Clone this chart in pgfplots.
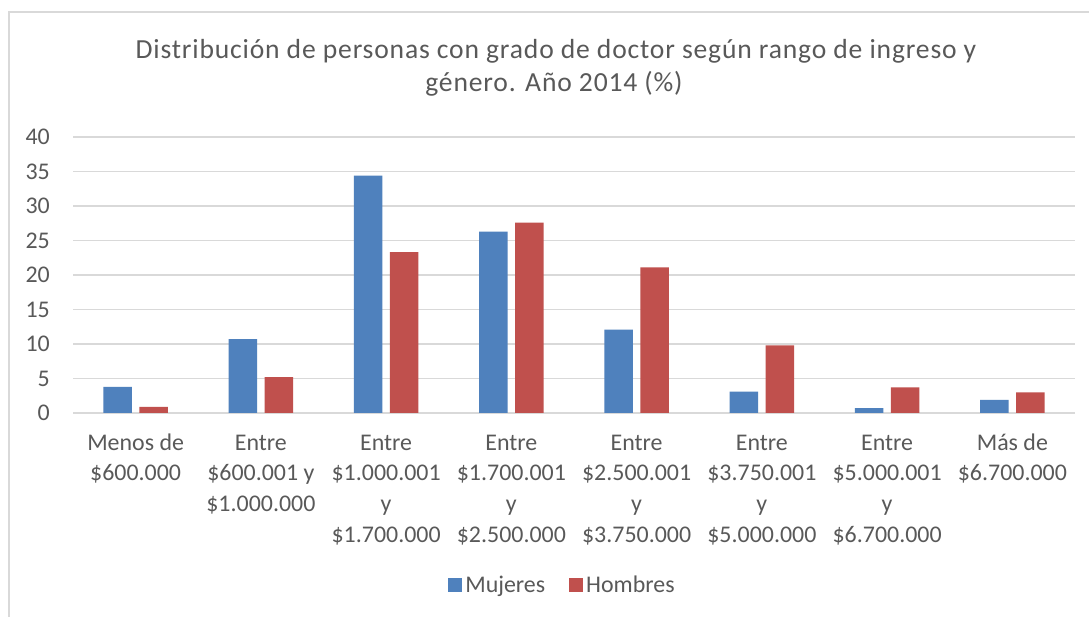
\documentclass[border=0pt]{standalone}
\usepackage{pgfplots}
\pgfplotsset{compat=1.18}
\usepackage{fontspec}
\setmainfont{Carlito}
\newfontfamily\titlefont[LetterSpace=3]{Carlito}
\definecolor{mblue}{HTML}{4F81BD}
\definecolor{hred}{HTML}{C0504D}
\definecolor{txt}{HTML}{595959}
\definecolor{gridc}{HTML}{D9D9D9}
\begin{document}
\begin{tikzpicture}[x=1bp,y=1bp]
\useasboundingbox (0,0) rectangle (1089,617);
\fill[white] (0,0) rectangle (1089,617);
\draw[gridc, line width=1.2bp] (9,0) -- (9,605) -- (1089,605);
\node[anchor=base, text=txt, inner sep=0pt, font=\titlefont\fontsize{27.7}{33}\selectfont] at (556,558) {Distribución de personas con grado de doctor según rango de ingreso y};
\node[anchor=base, text=txt, inner sep=0pt, font=\titlefont\fontsize{27.7}{33}\selectfont] at (554,525) {género. Año 2014 (\%)};
\begin{axis}[
  at={(73bp,204bp)}, anchor=south west,
  scale only axis, width=1002bp, height=276bp,
  xmin=-0.5, xmax=7.5, ymin=0, ymax=40,
  ytick={0,5,...,40}, xtick={0,...,7},
  xticklabels={{\strut Menos de\\\$600.000},
               {\strut Entre\\\$600.001 y\\\$1.000.000},
               {\strut Entre\\\$1.000.001\\y\\\$1.700.000},
               {\strut Entre\\\$1.700.001\\y\\\$2.500.000},
               {\strut Entre\\\$2.500.001\\y\\\$3.750.000},
               {\strut Entre\\\$3.750.001\\y\\\$5.000.000},
               {\strut Entre\\\$5.000.001\\y\\\$6.700.000},
               {\strut Más de\\\$6.700.000}},
  /pgf/number format/assume math mode=true,
  ybar=7.6bp, bar width=28.4bp,
  axis line style={draw=none},
  major tick length=0pt,
  ymajorgrids, grid style={gridc, line width=1.3bp},
  tick label style={text=txt, font=\fontsize{24}{31}\selectfont},
  yticklabel style={anchor=east, inner sep=0pt, xshift=-23bp},
  xticklabel style={anchor=north, align=center, inner sep=0pt, yshift=-15.2bp},
  legend style={at={(0.489,-0.623)}, anchor=center, draw=none, fill=none,
    legend columns=2, font=\fontsize{24}{28}\selectfont, text=txt,
    nodes={inner sep=3.5pt},
    /tikz/every even column/.append style={column sep=20bp}},
  legend image code/.code={\draw[#1, draw=none] (0bp,-7bp) rectangle (14bp,7bp);},
]
\addplot[fill=mblue, draw=none] coordinates {(0,3.8) (1,10.7) (2,34.4) (3,26.3) (4,12.1) (5,3.1) (6,0.7) (7,1.9)};
\addplot[fill=hred, draw=none] coordinates {(0,0.9) (1,5.2) (2,23.3) (3,27.6) (4,21.1) (5,9.8) (6,3.7) (7,3.0)};
\legend{Mujeres, Hombres}
\end{axis}
\end{tikzpicture}
\end{document}
